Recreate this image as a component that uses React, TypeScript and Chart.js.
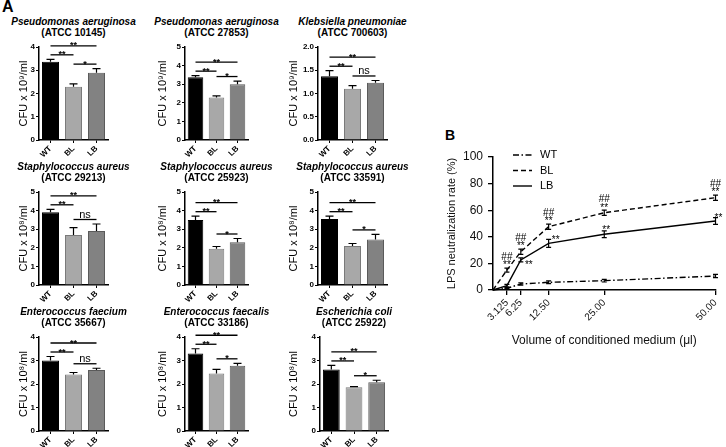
import React, { useEffect, useRef } from "react";
import { Chart, registerables } from "chart.js";
Chart.register(...registerables);

const FONT = "'Liberation Sans', Arial, Helvetica, sans-serif";

// ---------- Panel A data ----------
const groups = ["WT", "BL", "LB"];
const species = [
  "Pseudomonas aeruginosa", "Pseudomonas aeruginosa", "Klebsiella pneumoniae",
  "Staphylococcus aureus", "Staphylococcus aureus", "Staphylococcus aureus",
  "Enterococcus faecium", "Enterococcus faecalis", "Escherichia coli",
];
const strains = [
  "(ATCC 10145)", "(ATCC 27853)", "(ATCC 700603)",
  "(ATCC 29213)", "(ATCC 25923)", "(ATCC 33591)",
  "(ATCC 35667)", "(ATCC 33186)", "(ATCC 25922)",
];
const cfuExponent = ["⁹", "⁹", "⁹", "⁸", "⁸", "⁸", "⁸", "⁸", "⁸"];
const yMax = [4, 5, 2, 5, 5, 5, 4, 4, 4];
const yStep = [1, 1, 0.5, 1, 1, 1, 1, 1, 1];
const meanWT = [3.37, 3.37, 1.37, 3.91, 3.5, 3.55, 3.0, 3.3, 2.62];
const meanBL = [2.29, 2.28, 1.1, 2.69, 1.95, 2.1, 2.4, 2.45, 1.86];
const meanLB = [2.89, 3.0, 1.23, 2.9, 2.3, 2.45, 2.6, 2.78, 2.07];
const semWT = [0.1, 0.09, 0.12, 0.16, 0.2, 0.15, 0.17, 0.2, 0.17];
const semBL = [0.12, 0.09, 0.07, 0.39, 0.12, 0.13, 0.09, 0.17, 0.03];
const semLB = [0.18, 0.17, 0.05, 0.38, 0.2, 0.27, 0.07, 0.1, 0.09];
const sigWTvsBL = ["**", "**", "**", "**", "**", "**", "**", "**", "**"];
const sigBLvsLB = ["*", "*", "ns", "ns", "*", "*", "ns", "*", "*"];
const sigWTvsLB = ["**", "**", "**", "**", "**", "**", "**", "**", "**"];

// ---------- Panel B data ----------
const lpsVolume = [0, 3.125, 6.25, 12.5, 25, 50];
const wtRate = [0, 1.3, 4.5, 5.8, 7.0, 10.5];
const blRate = [0, 15, 28.8, 47.6, 58.1, 69.4];
const lbRate = [0, 3.3, 22.6, 35.1, 41.9, 51.9];
const wtSem = [0, 0.5, 0.8, 1, 1, 1.2];
const blSem = [0, 1.5, 2, 2, 2, 2];
const lbSem = [0, 1, 1.5, 3, 2.5, 2.5];
const blStarLabels = ["", "**", "**", "**", "**", "**"];
const blHashLabels = ["", "##", "##", "##", "##", "##"];
const lbStarLabels = ["", "", "**", "**", "**", "**"];
const xTickValues = [3.125, 6.25, 12.5, 25, 50];
const xTickLabels = ["3.125", "6.25", "12.50", "25.00", "50.00"];

// ---------- layout (page px) ----------
const colAxisX = [39, 185, 318];
const colRight = [108, 248, 387];
const colTitleX = [24, 163, 294];
const rowTop = [47, 192, 337];
const rowBottom = [140, 285, 431];
const rowTitleY = [21.5, 166.5, 311.5];

function makeBarPlugin(idx: number) {
  return {
    id: "sig" + idx,
    afterDatasetsDraw(chart: any) {
      const { ctx } = chart;
      const xs = chart.scales.x, ys = chart.scales.y;
      const means = [meanWT[idx], meanBL[idx], meanLB[idx]];
      const sems = [semWT[idx], semBL[idx], semLB[idx]];
      const capPx = means.map((m, i) => ys.getPixelForValue(m + sems[i]));
      ctx.save();
      ctx.strokeStyle = "#000";
      ctx.lineWidth = 1.2;
      means.forEach((m, i) => {
        const px = xs.getPixelForValue(i);
        const y0 = ys.getPixelForValue(m);
        ctx.beginPath();
        ctx.moveTo(px, y0);
        ctx.lineTo(px, capPx[i]);
        ctx.moveTo(px - 4, capPx[i]);
        ctx.lineTo(px + 4, capPx[i]);
        ctx.stroke();
      });
      const pyWB = Math.min(capPx[0], capPx[1]) - 4.5;
      const pyBL = Math.min(capPx[1], capPx[2]) - 4.5;
      const pyTop = Math.min(pyWB, pyBL) - 9;
      const bracket = (a: number, b: number, py: number, label: string) => {
        const xa = xs.getPixelForValue(a), xb = xs.getPixelForValue(b);
        ctx.lineWidth = 1.3;
        ctx.beginPath();
        ctx.moveTo(xa, py);
        ctx.lineTo(xb, py);
        ctx.stroke();
        ctx.fillStyle = "#000";
        ctx.textAlign = "center";
        ctx.textBaseline = "alphabetic";
        if (label === "ns") {
          ctx.font = `11px ${FONT}`;
          ctx.fillText(label, (xa + xb) / 2, py - 1.5);
        } else {
          ctx.font = `bold 9px ${FONT}`;
          ctx.fillText(label, (xa + xb) / 2, py + 2.5);
        }
      };
      bracket(0, 1, pyWB, sigWTvsBL[idx]);
      bracket(1, 2, pyBL, sigBLvsLB[idx]);
      bracket(0, 2, pyTop, sigWTvsLB[idx]);
      ctx.restore();
    },
  };
}

function BarPanel({ idx }: { idx: number }) {
  const ref = useRef<HTMLCanvasElement>(null);
  const col = idx % 3, row = Math.floor(idx / 3);
  const axisX = idx === 8 ? 320 : colAxisX[col];
  const right = colRight[col] + (idx === 8 ? 1 : 0);
  const top = rowTop[row];
  const bottom = rowBottom[row];
  const titleX = colTitleX[col];
  const canvasLeft = axisX - 38;
  const padL = titleX - 6.6 - canvasLeft;
  const yW = 38 - padL;
  const padT = 18;
  const canvasTop = top - padT;
  const width = right + 5 - canvasLeft;
  const height = bottom + 24 - canvasTop;
  const centerX = (axisX + right) / 2;

  useEffect(() => {
    const tickFont = { family: FONT, size: 8, weight: "bold" as const };
    const chart = new Chart(ref.current!, {
      type: "bar",
      data: {
        labels: groups,
        datasets: [
          {
            data: [meanWT[idx], meanBL[idx], meanLB[idx]],
            backgroundColor: ["#000000", "#a8a8a8", "#828282"],
            borderColor: ["#000000", "#7a7a7a", "#5a5a5a"],
            borderWidth: 1,
            barPercentage: 0.74,
            categoryPercentage: 1,
          },
        ],
      },
      options: {
        responsive: false,
        animation: false,
        events: [],
        layout: { padding: { left: padL, top: padT, right: 5, bottom: 2 } },
        plugins: { legend: { display: false }, tooltip: { enabled: false } },
        scales: {
          x: {
            grid: { display: true, drawOnChartArea: false, offset: false, tickLength: 3, color: "#000", lineWidth: 1 },
            border: { color: "#000", width: 1.5 },
            ticks: { minRotation: 45, maxRotation: 45, font: tickFont, color: "#000", padding: 1, autoSkip: false },
            afterFit: (s: any) => { s.height = 22; },
          },
          y: {
            min: 0,
            max: yMax[idx],
            grid: { display: true, drawOnChartArea: false, tickLength: 3, color: "#000", lineWidth: 1 },
            border: { color: "#000", width: 1.5 },
            ticks: {
              stepSize: yStep[idx],
              font: tickFont,
              color: "#000",
              padding: 1,
              callback: (v: any) => (yStep[idx] < 1 ? Number(v).toFixed(1) : String(v)),
            },
            title: {
              display: true,
              text: `CFU x 10${cfuExponent[idx]}/ml`,
              font: { family: FONT, size: 11 },
              color: "#000",
              padding: 0,
            },
            afterFit: (s: any) => { s.width = yW; },
          },
        },
      },
      plugins: [makeBarPlugin(idx)],
    });
    return () => chart.destroy();
  }, []);

  const titleStyle: React.CSSProperties = {
    position: "absolute",
    left: centerX - 100,
    width: 200,
    textAlign: "center",
    fontFamily: FONT,
    fontSize: 10,
    lineHeight: "12px",
    fontWeight: "bold",
    color: "#000",
    whiteSpace: "nowrap",
  };
  return (
    <>
      <div style={{ ...titleStyle, top: rowTitleY[row] - 6, fontStyle: "italic" }}>{species[idx]}</div>
      <div style={{ ...titleStyle, top: rowTitleY[row] + 5 }}>{strains[idx]}</div>
      <canvas
        ref={ref}
        width={width}
        height={height}
        style={{ position: "absolute", left: canvasLeft, top: canvasTop, width, height }}
      />
    </>
  );
}

const lpsPlugin = {
  id: "lpsExtras",
  afterDatasetsDraw(chart: any) {
    const { ctx, chartArea } = chart;
    const xs = chart.scales.x, ys = chart.scales.y;
    const series = [wtRate, blRate, lbRate];
    const errs = [wtSem, blSem, lbSem];
    ctx.save();
    ctx.strokeStyle = "#000";
    ctx.lineWidth = 1.2;
    series.forEach((s, k) =>
      s.forEach((v, i) => {
        const e = errs[k][i];
        if (!e) return;
        const px = xs.getPixelForValue(lpsVolume[i]);
        const yt = ys.getPixelForValue(v + e);
        const yb = ys.getPixelForValue(v - e);
        ctx.beginPath();
        ctx.moveTo(px, yt);
        ctx.lineTo(px, yb);
        ctx.moveTo(px - 2.5, yt);
        ctx.lineTo(px + 2.5, yt);
        ctx.moveTo(px - 2.5, yb);
        ctx.lineTo(px + 2.5, yb);
        ctx.stroke();
      })
    );
    ctx.fillStyle = "#000";
    ctx.textAlign = "center";
    ctx.textBaseline = "alphabetic";
    ctx.font = `10px ${FONT}`;
    blRate.forEach((v, i) => {
      if (!blStarLabels[i]) return;
      const px = xs.getPixelForValue(lpsVolume[i]);
      const py = ys.getPixelForValue(v);
      ctx.fillText(blStarLabels[i], px, py - 2.2);
      ctx.fillText(blHashLabels[i], px, py - 10.5);
    });
    const lbOff = [[0, 0], [7, -2], [8, 2], [7, -6], [2, -7], [3, -6]];
    lbRate.forEach((v, i) => {
      if (!lbStarLabels[i]) return;
      const px = xs.getPixelForValue(lpsVolume[i]);
      const py = ys.getPixelForValue(v);
      ctx.fillText(lbStarLabels[i], px + lbOff[i][0], py + lbOff[i][1] + 5.8);
    });
    // legend
    chart.data.datasets.forEach((ds: any, k: number) => {
      const ly = chartArea.top - 2 + k * 15.5;
      ctx.lineWidth = 1.4;
      ctx.setLineDash(ds.borderDash || []);
      ctx.beginPath();
      ctx.moveTo(chartArea.left + 20, ly);
      ctx.lineTo(chartArea.left + 39, ly);
      ctx.stroke();
      ctx.setLineDash([]);
      ctx.font = `11px ${FONT}`;
      ctx.textAlign = "left";
      ctx.textBaseline = "middle";
      ctx.fillText(ds.label, chartArea.left + 47, ly);
    });
    ctx.restore();
  },
};

function LpsChart() {
  const ref = useRef<HTMLCanvasElement>(null);
  useEffect(() => {
    const mk = (label: string, vals: number[], dash: number[]) => ({
      label,
      data: lpsVolume.map((x, i) => ({ x, y: vals[i] })),
      borderColor: "#000",
      backgroundColor: "#000",
      borderWidth: 1.4,
      borderDash: dash,
      pointRadius: 0,
      tension: 0,
      clip: false as any,
    });
    const chart = new Chart(ref.current!, {
      type: "line",
      data: {
        datasets: [
          mk("WT", wtRate, [6, 2.5, 1.5, 2.5]),
          mk("BL", blRate, [5, 3]),
          mk("LB", lbRate, []),
        ],
      },
      options: {
        responsive: false,
        animation: false,
        events: [],
        layout: { padding: { left: 5.4, top: 27, right: 8, bottom: 11.8 } },
        plugins: { legend: { display: false }, tooltip: { enabled: false } },
        scales: {
          x: {
            type: "linear",
            min: 0,
            max: 50,
            afterBuildTicks: (s: any) => { s.ticks = xTickValues.map((v) => ({ value: v })); },
            ticks: {
              autoSkip: false,
              minRotation: 45,
              maxRotation: 45,
              font: { family: FONT, size: 10 },
              color: "#111",
              padding: 2,
              callback: (_v: any, i: number) => xTickLabels[i],
            },
            grid: { display: true, drawOnChartArea: false, tickLength: 5, color: "#000", lineWidth: 1.3 },
            border: { color: "#000", width: 1.5 },
            title: {
              display: true,
              text: "Volume of conditioned medium (μl)",
              font: { family: FONT, size: 12 },
              color: "#111",
              padding: 0,
            },
            afterFit: (s: any) => { s.height = 58.2; },
          },
          y: {
            min: 0,
            max: 100,
            ticks: { stepSize: 20, font: { family: FONT, size: 12 }, color: "#111", padding: 5 },
            grid: { display: true, drawOnChartArea: false, tickLength: 5, color: "#000", lineWidth: 1.3 },
            border: { color: "#000", width: 1.5 },
            title: {
              display: true,
              text: "LPS neutralization rate (%)",
              font: { family: FONT, size: 11 },
              color: "#111",
              padding: 0,
            },
            afterFit: (s: any) => { s.width = 47.6; },
          },
        },
      },
      plugins: [lpsPlugin],
    });
    return () => chart.destroy();
  }, []);
  return (
    <canvas
      ref={ref}
      width={286}
      height={230}
      style={{ position: "absolute", left: 440, top: 130, width: 286, height: 230 }}
    />
  );
}

export default function App() {
  return (
    <div
      style={{
        position: "absolute",
        left: 0,
        top: 0,
        width: 726,
        height: 447,
        background: "#fff",
        overflow: "hidden",
        fontFamily: FONT,
      }}
    >
      <div style={{ position: "absolute", left: 2, top: -2, fontSize: 16, fontWeight: "bold", color: "#000" }}>A</div>
      <div style={{ position: "absolute", left: 445, top: 127, fontSize: 14, fontWeight: "bold", color: "#000" }}>B</div>
      {species.map((_, i) => (
        <BarPanel key={i} idx={i} />
      ))}
      <LpsChart />
    </div>
  );
}
